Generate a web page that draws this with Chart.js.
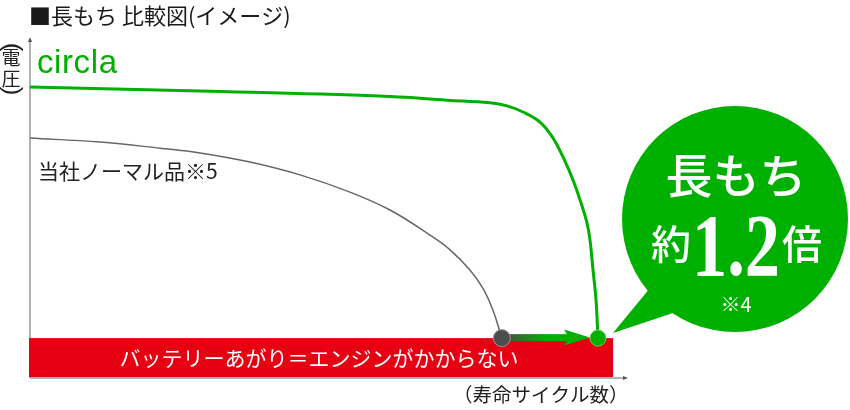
<!DOCTYPE html>
<html>
<head>
<meta charset="utf-8">
<script src="https://cdn.jsdelivr.net/npm/chart.js@4.4.1/dist/chart.umd.min.js"></script>
<style>
html,body{margin:0;padding:0;background:#fff;}
#wrap{width:850px;height:410px;position:relative;}
</style>
</head>
<body>
<div id="wrap"><canvas id="c" width="850" height="410"></canvas></div>
<script>
// ---- data (arbitrary units: cycles 0..100, voltage 0..100) ----
const circlaCycles  = [0, 28.57, 58.82, 70.08, 77.31, 80.17, 82.86, 85.71, 87.90, 89.58, 91.26, 92.44, 93.61, 94.12, 94.62, 95.13, 95.46];
const circlaVoltage = [86.1, 84.9, 83.4, 82.2, 81.4, 80.5, 78.7, 75.7, 71.0, 65.4, 58.6, 52.7, 45.9, 40.8, 32.0, 23.1, 11.8];
const normalCycles  = [0, 11.76, 21.85, 28.57, 36.97, 45.38, 53.78, 60.5, 67.2, 70.6, 73.9, 76.1, 77.8, 79.3];
const normalVoltage = [71.0, 69.8, 68.0, 66.6, 63.9, 60.1, 55.0, 49.7, 42.3, 37.9, 32.0, 26.6, 20.1, 11.8];
const deadVoltage = 11.8;      // battery-dead threshold
const bandEndCycle = 98;       // end of red band
const seriesLabels = ['circla', '当社ノーマル品※5'];

const GREEN = '#00b000', RED = '#e60012', GRAY = '#666666';

function pts(xs, ys){ return xs.map((x,i)=>({x, y: ys[i]})); }

const overlay = {
  id: 'overlay',
  beforeDatasetsDraw(chart){
    const {ctx, scales:{x, y}} = chart;
    ctx.save();
    ctx.strokeStyle = '#999'; ctx.fillStyle = '#999'; ctx.lineWidth = 1.5;
    const x0 = x.getPixelForValue(0), y0 = y.getPixelForValue(0);
    const yTop = y.getPixelForValue(100), xEnd = x.getPixelForValue(100);
    ctx.beginPath(); ctx.moveTo(x0, y0); ctx.lineTo(x0, yTop); ctx.stroke();
    ctx.beginPath(); ctx.moveTo(x0, y0); ctx.lineTo(xEnd, y0); ctx.stroke();
    ctx.fillStyle = '#555';
    ctx.beginPath(); ctx.moveTo(x0, yTop-3); ctx.lineTo(x0-2, yTop+2); ctx.lineTo(x0+2, yTop+2); ctx.closePath(); ctx.fill();
    ctx.beginPath(); ctx.moveTo(xEnd+3, y0); ctx.lineTo(xEnd-2, y0-2); ctx.lineTo(xEnd-2, y0+2); ctx.closePath(); ctx.fill();
    // red band
    const bl = x.getPixelForValue(0)-1, br = x.getPixelForValue(bandEndCycle);
    const bt = y.getPixelForValue(deadVoltage), bb = y.getPixelForValue(0)-1;
    ctx.fillStyle = RED;
    ctx.fillRect(bl, bt, br-bl, bb-bt);
    ctx.fillStyle = '#fff';
    ctx.font = '21px "Noto Sans CJK JP"';
    ctx.textAlign = 'center'; ctx.textBaseline = 'middle';
    ctx.fillText('バッテリーあがり＝エンジンがかからない', 319, (bt+bb)/2);
    ctx.restore();
  },
  afterDatasetsDraw(chart){
    const {ctx, scales:{x, y}} = chart;
    ctx.save();
    const gx = x.getPixelForValue(normalCycles[normalCycles.length-1]);
    const cx = x.getPixelForValue(circlaCycles[circlaCycles.length-1]);
    const ay = y.getPixelForValue(deadVoltage) - 0.5;
    // arrow
    const grad = ctx.createLinearGradient(gx, 0, gx+45, 0);
    grad.addColorStop(0, '#4a4a4a'); grad.addColorStop(1, GREEN);
    ctx.fillStyle = grad;
    ctx.fillRect(gx, ay-3.5, (cx-28)-gx, 7);
    ctx.fillStyle = GREEN;
    ctx.beginPath();
    ctx.moveTo(cx-34, ay-8); ctx.lineTo(cx-8, ay); ctx.lineTo(cx-34, ay+8); ctx.lineTo(cx-29, ay); ctx.closePath(); ctx.fill();
    // dots
    ctx.beginPath(); ctx.arc(gx, ay+0.5, 8.5, 0, Math.PI*2);
    ctx.fillStyle = '#4d4d4d'; ctx.fill(); ctx.lineWidth = 1; ctx.strokeStyle = '#999'; ctx.stroke();
    ctx.beginPath(); ctx.arc(cx, ay+0.5, 8, 0, Math.PI*2);
    ctx.fillStyle = GREEN; ctx.fill(); ctx.strokeStyle = '#5fd05f'; ctx.stroke();

    // bubble
    ctx.fillStyle = GREEN;
    ctx.beginPath(); ctx.arc(735, 219, 113, 0, Math.PI*2); ctx.fill();
    ctx.beginPath(); ctx.moveTo(650, 288); ctx.lineTo(613, 333); ctx.lineTo(676, 312); ctx.closePath(); ctx.fill();
    ctx.fillStyle = '#fff';
    ctx.textAlign = 'center'; ctx.textBaseline = 'middle';
    ctx.font = '500 47px "Noto Sans CJK JP"';
    ctx.fillText('長もち', 736, 175);
    ctx.font = '500 40px "Noto Sans CJK JP"';
    ctx.fillText('約', 671, 244);
    ctx.fillText('倍', 802, 244);
    ctx.save();
    ctx.translate(736, 275); ctx.scale(0.8, 1);
    ctx.font = 'bold 88px "Liberation Serif"';
    ctx.textBaseline = 'alphabetic';
    ctx.fillText('1.2', 0, 0);
    ctx.restore();
    ctx.font = '20px "Noto Sans CJK JP"';
    ctx.fillText('※4', 736, 304);

    // texts
    ctx.fillStyle = '#1a1a1a';
    ctx.textAlign = 'left';
    ctx.font = '22px "Noto Sans CJK JP"';
    ctx.fillText('■長もち 比較図(イメージ)', 29, 16);
    ctx.fillStyle = GREEN;
    ctx.textBaseline = 'alphabetic';
    ctx.font = '33px "Liberation Sans"';
    ctx.letterSpacing = '0.6px';
    ctx.fillText(seriesLabels[0], 37, 73);
    ctx.letterSpacing = '0px';
    ctx.fillStyle = '#222';
    ctx.textBaseline = 'middle';
    ctx.font = '21px "Noto Sans CJK JP"';
    ctx.fillText(seriesLabels[1], 38, 171);
    ctx.font = '19.5px "Noto Sans CJK JP"';
    ctx.fillText('（寿命サイクル数）', 453, 395);
    // vertical y label
    ctx.textAlign = 'center';
    ctx.font = '19px "Noto Sans CJK JP"';
    ctx.fillText('電', 11, 58);
    ctx.fillText('圧', 11, 79);
    ctx.font = '26px "Liberation Sans"';
    ctx.save(); ctx.translate(11, 47); ctx.rotate(Math.PI/2); ctx.scale(1, 0.9); ctx.fillText('(', 0, 0); ctx.restore();
    ctx.save(); ctx.translate(11, 91); ctx.rotate(Math.PI/2); ctx.scale(1, 0.9); ctx.fillText(')', 0, 0); ctx.restore();
    ctx.restore();
  }
};

new Chart(document.getElementById('c'), {
  type: 'scatter',
  data: {
    datasets: [
      { label: seriesLabels[0], data: pts(circlaCycles, circlaVoltage), showLine: true,
        borderColor: GREEN, borderWidth: 3, pointRadius: 0, tension: 0.4, clip: false },
      { label: seriesLabels[1], data: pts(normalCycles, normalVoltage), showLine: true,
        borderColor: GRAY, borderWidth: 1.5, pointRadius: 0, tension: 0.4, clip: false }
    ]
  },
  options: {
    responsive: false, animation: false, devicePixelRatio: 1,
    layout: { padding: { left: 30, right: 225, top: 40, bottom: 32 } },
    plugins: { legend: { display: false }, tooltip: { enabled: false } },
    scales: {
      x: { type: 'linear', min: 0, max: 100, display: false },
      y: { type: 'linear', min: 0, max: 100, display: false }
    }
  },
  plugins: [overlay]
});
</script>
</body>
</html>
